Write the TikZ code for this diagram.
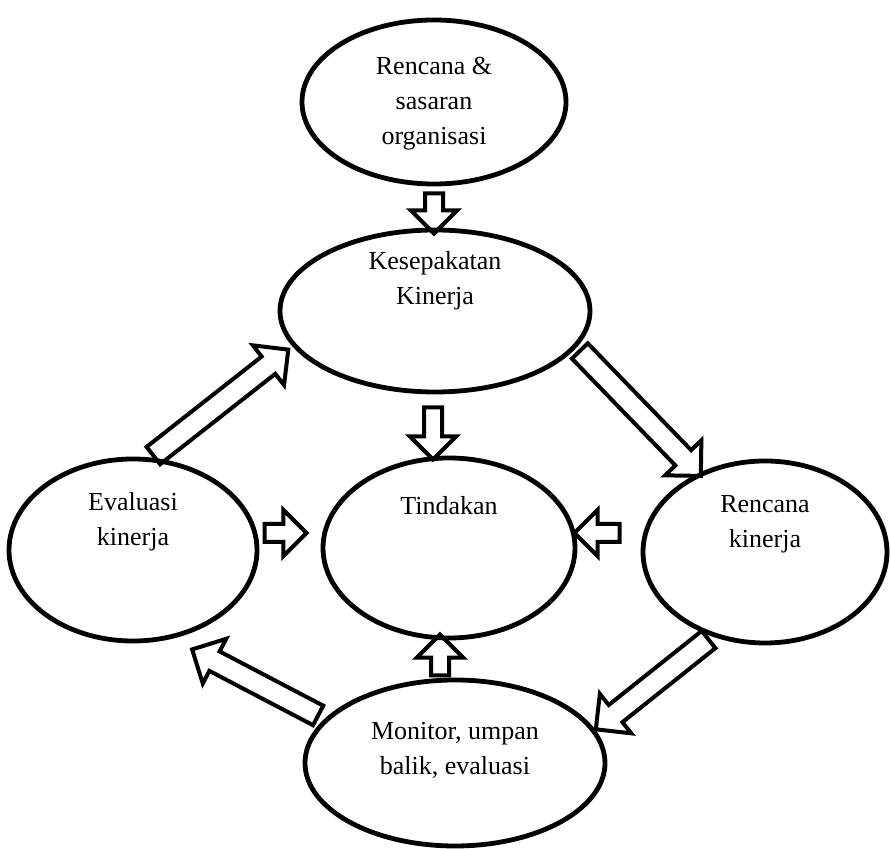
\documentclass[tikz,border=0pt]{standalone}
\usepackage{fontspec}
\setmainfont{Liberation Serif}
\usetikzlibrary{shapes.geometric,shapes.arrows,calc}

\tikzset{
  oval/.style={ellipse, draw, line width=2.4pt, inner sep=0pt},
  tulisan/.style={align=center, font=\fontsize{13}{17.5}\selectfont},
  blok/.style={single arrow, draw, line width=2pt, inner xsep=0pt, inner ysep=3.5pt,
    minimum width=20pt, single arrow head indent=0pt},
  blokbesar/.style={blok, inner ysep=4.5pt, minimum width=22pt}
}

% block arrow from #3 to #4, named #2
\newcommand\blokpanah[4][]{%
  \path let \p1=($(#4)-(#3)$), \n1={atan2(\y1,\x1)}, \n2={veclen(\x1,\y1)} in
    node[blok,#1,minimum height=\n2,rotate=\n1] (#2) at ($(#3)!0.5!(#4)$) {};}

\begin{document}
\begin{tikzpicture}[x=0.5pt,y=-0.5pt]
\useasboundingbox (0,0) rectangle (891,849);

% ellipses
\node[oval, minimum width=132pt, minimum height=82pt] (org) at (434,102) {};
\node[oval, minimum width=155pt, minimum height=81pt] (kes) at (435,311) {};
\node[oval, minimum width=126pt, minimum height=90pt] (tin) at (449,548) {};
\node[oval, minimum width=124pt, minimum height=91pt] (eva) at (133,550) {};
\node[oval, minimum width=122pt, minimum height=91pt] (ren) at (765,552) {};
\node[oval, minimum width=150pt, minimum height=83pt] (mon) at (455,763) {};

% texts
\node[tulisan] (torg) at ([yshift=-1pt]org.center) {Rencana \&\\sasaran\\organisasi};
\node[tulisan] (tkes) at ([yshift=15pt]kes.center) {Kesepakatan\\Kinerja};
\node[tulisan] (ttin) at ([yshift=21pt]tin.center) {Tindakan};
\node[tulisan] (teva) at ([yshift=14pt]eva.center) {Evaluasi\\kinerja};
\node[tulisan] (tren) at ([yshift=14pt]ren.center) {Rencana\\kinerja};
\node[tulisan] (tmon) at ([yshift=6.5pt]mon.center) {Monitor, umpan\\balik, evaluasi};

% arrow ends
\coordinate (a1s) at (434,189);  \coordinate (a1e) at (434,229);
\coordinate (a2s) at (576,347);  \coordinate (a2e) at (697,472);
\coordinate (a3s) at (149,459);  \coordinate (a3e) at (284,353);
\coordinate (a4s) at (433,403);  \coordinate (a4e) at (433,455);
\coordinate (a5s) at (260,533);  \coordinate (a5e) at (302,533);
\coordinate (a6s) at (624,533);  \coordinate (a6e) at (579,533);
\coordinate (a7s) at (713,636);  \coordinate (a7e) at (600,726);
\coordinate (a8s) at (323,718);  \coordinate (a8e) at (197,652);
\coordinate (a9s) at (440,680);  \coordinate (a9e) at (440,639);

% block arrows
\blokpanah{p1}{a1s}{a1e}
\blokpanah[blokbesar]{p2}{a2s}{a2e}
\blokpanah[blokbesar]{p3}{a3s}{a3e}
\blokpanah{p4}{a4s}{a4e}
\blokpanah{p5}{a5s}{a5e}
\blokpanah{p6}{a6s}{a6e}
\blokpanah[blokbesar]{p7}{a7s}{a7e}
\blokpanah[blokbesar]{p8}{a8s}{a8e}
\blokpanah{p9}{a9s}{a9e}
\end{tikzpicture}
\end{document}
